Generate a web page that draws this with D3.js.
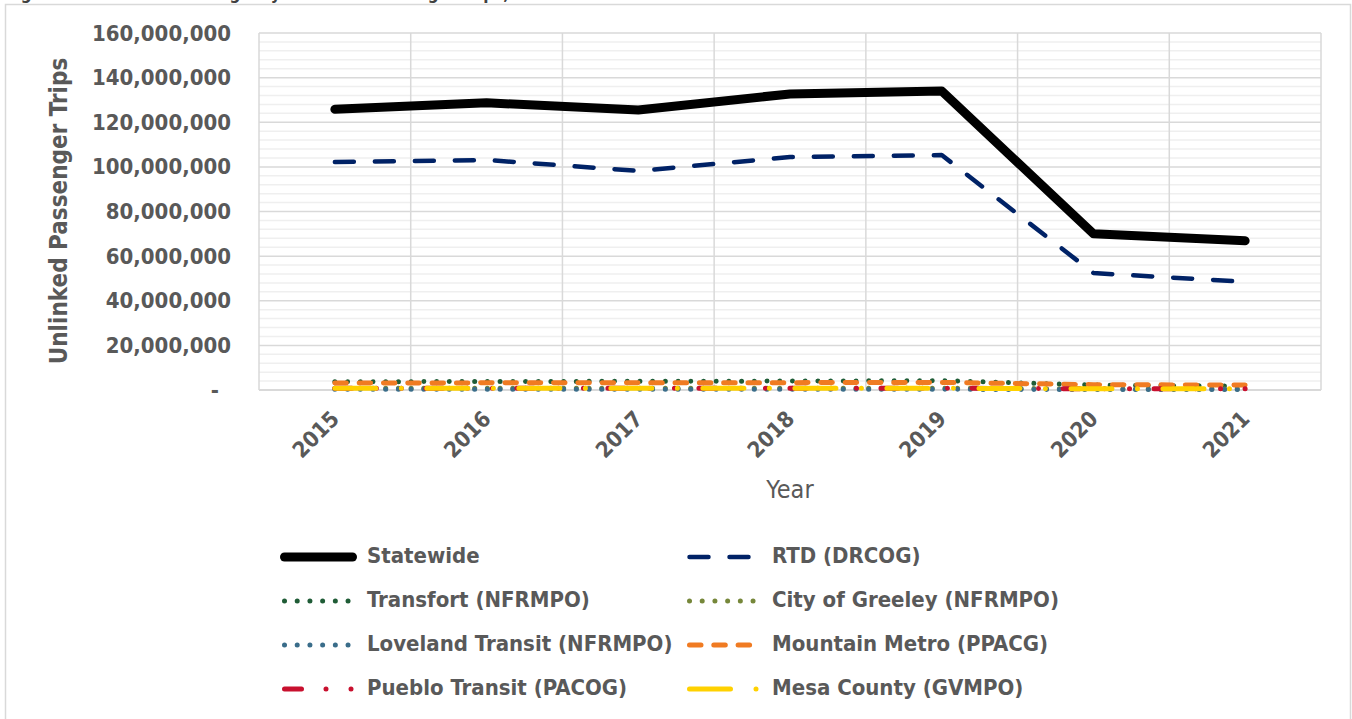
<!DOCTYPE html>
<html><head><meta charset="utf-8">
<script src="https://cdn.jsdelivr.net/npm/d3@7"></script>
<style>
html,body{margin:0;padding:0;background:#fff;}
svg{display:block;}
text{font-family:"DejaVu Sans Condensed","DejaVu Sans",sans-serif;}
</style></head>
<body>
<svg id="chart" width="1352" height="719"></svg>
<script>
const years = ["2015","2016","2017","2018","2019","2020","2021"];
const statewide = [125800000,128700000,125500000,132700000,134000000,70000000,66900000];
const rtd = [102200000,103100000,98200000,104400000,105300000,52400000,48500000];
const transfort = [3700000,3800000,3900000,4000000,4200000,2200000,1700000];
const greeley = [800000,800000,800000,800000,800000,500000,500000];
const loveland = [300000,300000,300000,300000,300000,200000,200000];
const mountainMetro = [3100000,3200000,3300000,3300000,3400000,2400000,2200000];
const pueblo = [800000,800000,800000,800000,800000,550000,550000];
const mesa = [750000,750000,750000,750000,750000,550000,550000];
const seriesNames = ["Statewide","RTD (DRCOG)","Transfort (NFRMPO)","City of Greeley (NFRMPO)","Loveland Transit (NFRMPO)","Mountain Metro (PPACG)","Pueblo Transit (PACOG)","Mesa County (GVMPO)"];
const yTicks = [0,20000000,40000000,60000000,80000000,100000000,120000000,140000000,160000000];

const styles = [
  {color:"#000000", width:9, dash:null},
  {color:"#002266", width:4.5, dash:"19,21"},
  {color:"#1f5c36", width:5, dash:"0.01,12.7"},
  {color:"#76873a", width:5, dash:"0.01,12.7"},
  {color:"#3a6d8a", width:5, dash:"0.01,12.7"},
  {color:"#f07b22", width:5, dash:"11.5,12.8"},
  {color:"#c8102e", width:5, dash:"17,24.5,0.01,25,0.01,24.5"},
  {color:"#ffd100", width:5, dash:"41,25.5,0.01,25.5"}
];
const data = [statewide, rtd, transfort, greeley, loveland, mountainMetro, pueblo, mesa];

const FONT = '"DejaVu Sans Condensed","DejaVu Sans",sans-serif';
const svg = d3.select("#chart");
const pLeft = 259, pRight = 1321, pTop = 33, pBottom = 390;
const x = d3.scalePoint().domain(years).range([pLeft, pRight]).padding(0.5);
const y = d3.scaleLinear().domain([0,160000000]).range([pBottom, pTop]);
const step = x.step();

// chart border
svg.append("rect").attr("x",5.5).attr("y",4.5).attr("width",1345).attr("height",720)
  .attr("fill","none").attr("stroke","#d9d9d9").attr("stroke-width",1.5);

// partially visible title (cut off at the top edge, as in the reference)
svg.append("text").attr("x",5).attr("y",-1).attr("font-size",17).attr("font-weight","bold")
  .attr("fill","#404040").text("Figure 4: Statewide and Agency Unlinked Passenger Trips, 2015-2021");

// minor gridlines
const minor = d3.range(0,160000001,4000000).filter(v => v % 20000000 !== 0);
svg.append("g").selectAll("line").data(minor).join("line")
  .attr("x1",pLeft).attr("x2",pRight).attr("y1",d=>y(d)).attr("y2",d=>y(d))
  .attr("stroke","#efefef").attr("stroke-width",1.5);
// major gridlines
svg.append("g").selectAll("line").data(yTicks.slice(1)).join("line")
  .attr("x1",pLeft).attr("x2",pRight).attr("y1",d=>y(d)).attr("y2",d=>y(d))
  .attr("stroke","#d9d9d9").attr("stroke-width",1.5);
// vertical gridlines at category boundaries
const bounds = years.map(yr => x(yr) - step/2).concat([x(years[years.length-1]) + step/2]);
svg.append("g").selectAll("line").data(bounds).join("line")
  .attr("x1",d=>d).attr("x2",d=>d).attr("y1",pTop).attr("y2",pBottom)
  .attr("stroke","#d9d9d9").attr("stroke-width",1.5);
// x axis line
svg.append("line").attr("x1",pLeft).attr("x2",pRight).attr("y1",pBottom).attr("y2",pBottom)
  .attr("stroke","#d9d9d9").attr("stroke-width",2);

// y axis labels
const yAxis = d3.axisLeft(y).tickValues(yTicks).tickSize(0).tickPadding(0)
  .tickFormat(d => d === 0 ? "-" : d3.format(",")(d));
const gy = svg.append("g").attr("transform",`translate(231,0)`).call(yAxis);
gy.select(".domain").remove();
gy.selectAll("text").attr("font-size",22).attr("font-weight","bold").attr("fill","#595959")
  .attr("font-family",FONT);
gy.selectAll(".tick").filter(d=>d===0).select("text").attr("dx",-12);

// x axis labels
const xAxis = d3.axisBottom(x).tickSize(0).tickPadding(0);
const gx = svg.append("g").attr("transform",`translate(0,${pBottom})`).call(xAxis);
gx.select(".domain").remove();
gx.selectAll("text").attr("font-size",22).attr("font-weight","bold").attr("fill","#595959")
  .attr("font-family",FONT)
  .attr("text-anchor","end").attr("dy",null).attr("y",0).attr("x",0)
  .attr("transform","translate(1,26) rotate(-45)")
  .attr("dominant-baseline","middle");

// axis titles
svg.append("text").attr("x",790).attr("y",498).attr("text-anchor","middle")
  .attr("font-size",25).attr("fill","#595959").text("Year");
svg.append("text").attr("transform","translate(67,211) rotate(-90)").attr("text-anchor","middle")
  .attr("font-size",24).attr("font-weight","bold").attr("fill","#595959").text("Unlinked Passenger Trips");

// lines
const line = d3.line().x((d,i)=>x(years[i])).y(d=>y(d));
const gl = svg.append("g");
data.forEach((s,i) => {
  const st = styles[i];
  const p = gl.append("path").datum(s).attr("d",line).attr("fill","none")
    .attr("stroke",st.color).attr("stroke-width",st.width)
    .attr("stroke-linecap","round").attr("stroke-linejoin","round");
  if (st.dash) p.attr("stroke-dasharray",st.dash);
});

// legend
const legX = [284.5, 689.5], legLen = [68, 67], legTextX = [367, 772];
const legY = [557, 601, 645, 689];
seriesNames.forEach((name,i) => {
  const col = i % 2, row = Math.floor(i/2);
  const st = styles[i];
  const g = svg.append("g");
  const l = g.append("line").attr("x1",legX[col]).attr("x2",legX[col]+legLen[col])
    .attr("y1",legY[row]).attr("y2",legY[row])
    .attr("stroke",st.color).attr("stroke-width",st.width).attr("stroke-linecap","round");
  if (st.dash) l.attr("stroke-dasharray",st.dash);
  g.append("text").attr("x",legTextX[col]).attr("y",legY[row]).attr("dominant-baseline","middle")
    .attr("font-size",22).attr("font-weight","bold").attr("fill","#595959").text(name);
});
</script>
</body></html>
